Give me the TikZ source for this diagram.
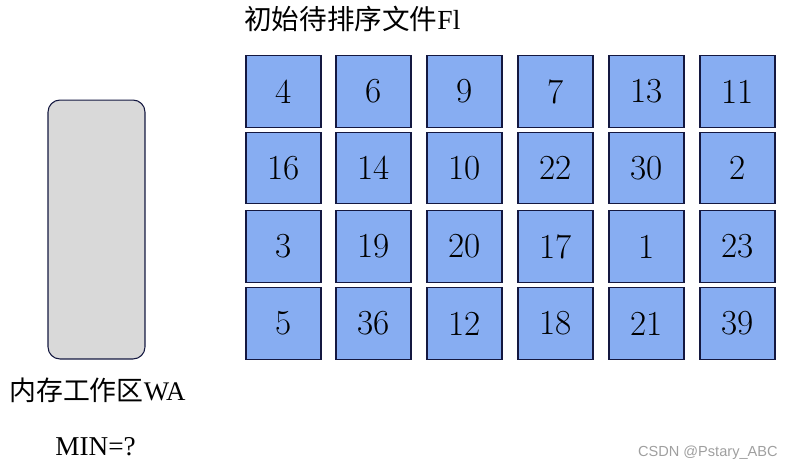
\documentclass[tikz,border=0pt]{standalone}
\usepackage{fontspec}
\usepackage{tikz}
\newfontfamily\cjk{Noto Sans CJK SC}
\newfontfamily\tms{Liberation Serif}
\newfontfamily\wmark{Liberation Sans}
\definecolor{cellblue}{RGB}{135,173,242}
\definecolor{cellline}{RGB}{20,24,64}
\definecolor{wagray}{RGB}{217,217,217}

\begin{document}
\begin{tikzpicture}[x=0.02cm,y=-0.02cm]
\useasboundingbox (0,0) rectangle (793,470);

% memory work area
\node (wa) [draw=cellline,fill=wagray,line width=0.6pt,rounded corners=0.24cm,
  minimum width=1.94cm,minimum height=5.18cm,inner sep=0] at (96.5,229.5) {};

\begin{scope}[every node/.style={draw=cellline,fill=cellblue,line width=0.6pt,
  minimum width=1.5cm,minimum height=1.43cm,inner sep=0,font=\fontsize{20}{24}\selectfont}]
    \node (11) at (283.5,91.5) {4};
    \node (12) at (373.5,91.5) {6};
    \node (13) at (464.5,91.5) {9};
    \node (14) at (555.5,91.5) {7};
    \node (15) at (646.5,91.5) {13};
    \node (16) at (737.5,91.5) {11};
    \node (21) at (283.5,168) {16};
    \node (22) at (373.5,168) {14};
    \node (23) at (464.5,168) {10};
    \node (24) at (555.5,168) {22};
    \node (25) at (646.5,168) {30};
    \node (26) at (737.5,168) {2};
    \node (31) at (283.5,246.5) {3};
    \node (32) at (373.5,246.5) {19};
    \node (33) at (464.5,246.5) {20};
    \node (34) at (555.5,246.5) {17};
    \node (35) at (646.5,246.5) {1};
    \node (36) at (737.5,246.5) {23};
    \node (41) at (283.5,323.5) {5};
    \node (42) at (373.5,323.5) {36};
    \node (43) at (464.5,323.5) {12};
    \node (44) at (555.5,323.5) {18};
    \node (45) at (646.5,323.5) {21};
    \node (46) at (737.5,323.5) {39};
\end{scope}

\node (title) [anchor=west,inner sep=0,font=\fontsize{15.7}{18}\selectfont] at (244,19) {{\cjk 初始待排序文件}{\tms Fl}};
\node (walabel) [anchor=west,inner sep=0,font=\fontsize{15.3}{18}\selectfont] at (9,390) {{\cjk 内存工作区}{\tms WA}};
\node (min) [anchor=west,inner sep=0,font=\fontsize{15.5}{18}\selectfont] at (55,447) {\tms MIN=?};
\node (csdn) [anchor=east,inner sep=0,text=gray!75,font=\wmark\fontsize{8.3}{10}\selectfont] at (778,453) {CSDN @Pstary\_ABC};

\end{tikzpicture}
\end{document}
